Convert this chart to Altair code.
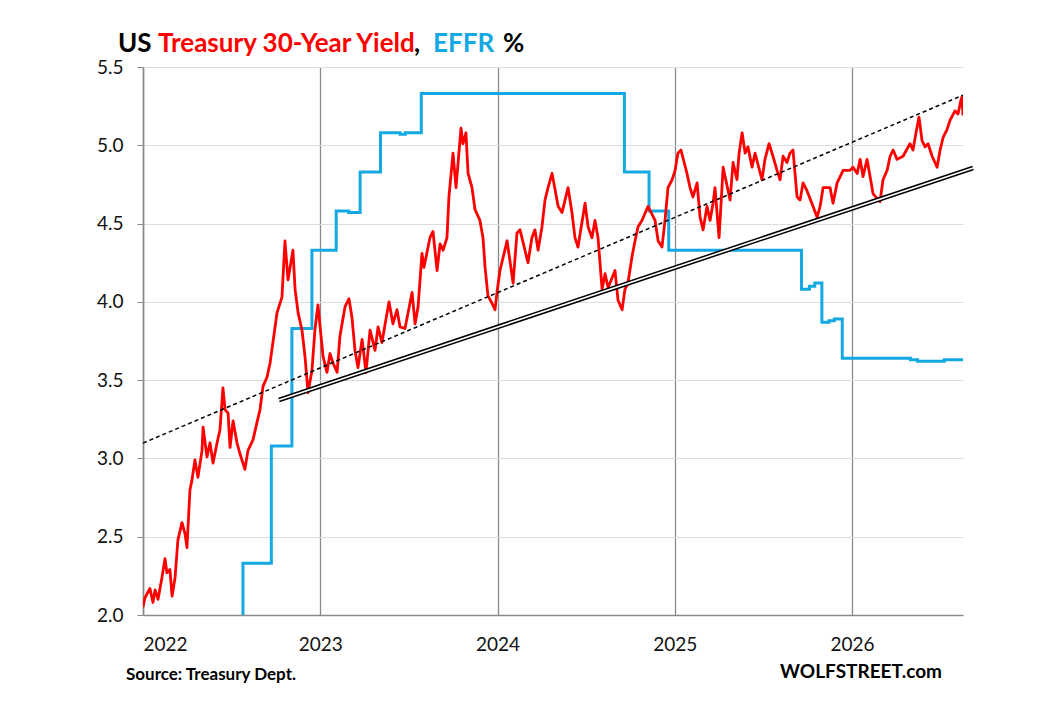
import altair as alt
import pandas as pd

# ---------------- data ----------------
ust_year = [
    2022.000, 2022.011, 2022.039, 2022.056, 2022.068, 2022.085, 2022.107, 2022.124,
    2022.135, 2022.152, 2022.164, 2022.181, 2022.197, 2022.220, 2022.237, 2022.248,
    2022.265, 2022.276, 2022.293, 2022.310, 2022.333, 2022.339, 2022.361, 2022.378,
    2022.395, 2022.418, 2022.434, 2022.451, 2022.463, 2022.480, 2022.491, 2022.508,
    2022.530, 2022.547, 2022.575, 2022.592, 2022.621, 2022.643, 2022.660, 2022.677,
    2022.700, 2022.717, 2022.733, 2022.756, 2022.784, 2022.801, 2022.818, 2022.846,
    2022.858, 2022.875, 2022.897, 2022.914, 2022.931, 2022.953, 2022.970, 2022.987,
    2023.016, 2023.038, 2023.055, 2023.072, 2023.095, 2023.111, 2023.140, 2023.162,
    2023.179, 2023.196, 2023.213, 2023.236, 2023.258, 2023.281, 2023.309, 2023.326,
    2023.348, 2023.388, 2023.410, 2023.433, 2023.450, 2023.478, 2023.518, 2023.535,
    2023.552, 2023.574, 2023.585, 2023.619, 2023.636, 2023.659, 2023.676, 2023.693,
    2023.715, 2023.726, 2023.749, 2023.766, 2023.794, 2023.805, 2023.822, 2023.834,
    2023.856, 2023.873, 2023.901, 2023.918, 2023.930, 2023.946, 2023.969, 2023.986,
    2023.997, 2024.014, 2024.054, 2024.088, 2024.110, 2024.127, 2024.172, 2024.194,
    2024.211, 2024.229, 2024.251, 2024.268, 2024.285, 2024.308, 2024.342, 2024.364,
    2024.398, 2024.420, 2024.437, 2024.454, 2024.494, 2024.511, 2024.533, 2024.550,
    2024.567, 2024.590, 2024.607, 2024.624, 2024.663, 2024.680, 2024.703, 2024.719,
    2024.736, 2024.759, 2024.776, 2024.793, 2024.815, 2024.849, 2024.889, 2024.906,
    2024.928, 2024.945, 2024.962, 2024.985, 2025.002, 2025.018, 2025.035, 2025.069,
    2025.086, 2025.103, 2025.126, 2025.143, 2025.160, 2025.182, 2025.199, 2025.216,
    2025.227, 2025.250, 2025.273, 2025.312, 2025.329, 2025.351, 2025.363, 2025.380,
    2025.397, 2025.413, 2025.436, 2025.453, 2025.492, 2025.509, 2025.532, 2025.554,
    2025.577, 2025.594, 2025.611, 2025.633, 2025.650, 2025.667, 2025.690, 2025.707,
    2025.724, 2025.746, 2025.780, 2025.803, 2025.820, 2025.837, 2025.876, 2025.893,
    2025.916, 2025.933, 2025.950, 2025.989, 2026.006, 2026.029, 2026.046, 2026.062,
    2026.085, 2026.119, 2026.158, 2026.175, 2026.198, 2026.215, 2026.232, 2026.254,
    2026.288, 2026.327, 2026.344, 2026.361, 2026.378, 2026.395, 2026.412, 2026.429,
    2026.452, 2026.468, 2026.480, 2026.497, 2026.514, 2026.536, 2026.553, 2026.581,
    2026.598, 2026.615, 2026.621, 2026.626,
]
ust_yield = [
    2.05, 2.11, 2.17, 2.08, 2.16, 2.10, 2.24, 2.36,
    2.27, 2.29, 2.12, 2.24, 2.48, 2.59, 2.52, 2.43,
    2.80, 2.86, 2.99, 2.88, 3.05, 3.20, 3.01, 3.10,
    2.97, 3.10, 3.18, 3.45, 3.31, 3.29, 3.07, 3.24,
    3.10, 3.03, 2.93, 3.05, 3.12, 3.23, 3.31, 3.46,
    3.52, 3.61, 3.74, 3.93, 4.03, 4.39, 4.14, 4.33,
    4.08, 3.93, 3.82, 3.65, 3.42, 3.56, 3.82, 3.98,
    3.65, 3.55, 3.67, 3.61, 3.55, 3.78, 3.97, 4.02,
    3.90, 3.69, 3.58, 3.76, 3.55, 3.82, 3.69, 3.84,
    3.74, 4.00, 3.86, 3.95, 3.84, 3.83, 4.06, 3.86,
    3.97, 4.31, 4.22, 4.41, 4.45, 4.20, 4.37, 4.33,
    4.41, 4.67, 4.95, 4.73, 5.11, 5.01, 5.08, 4.82,
    4.73, 4.59, 4.52, 4.41, 4.22, 4.04, 3.99, 3.95,
    4.06, 4.20, 4.39, 4.12, 4.44, 4.46, 4.25, 4.41,
    4.46, 4.33, 4.48, 4.65, 4.73, 4.82, 4.61, 4.57,
    4.73, 4.57, 4.41, 4.35, 4.63, 4.48, 4.41, 4.52,
    4.41, 4.08, 4.18, 4.09, 4.20, 4.01, 3.95, 4.08,
    4.12, 4.29, 4.39, 4.48, 4.52, 4.61, 4.52, 4.39,
    4.35, 4.52, 4.73, 4.78, 4.84, 4.95, 4.97, 4.82,
    4.73, 4.67, 4.76, 4.54, 4.46, 4.61, 4.52, 4.63,
    4.73, 4.41, 4.86, 4.65, 4.89, 4.78, 4.95, 5.08,
    4.95, 4.99, 4.86, 4.95, 4.78, 4.91, 5.01, 4.93,
    4.84, 4.78, 4.93, 4.89, 4.95, 4.97, 4.67, 4.65,
    4.76, 4.71, 4.61, 4.54, 4.61, 4.73, 4.73, 4.63,
    4.76, 4.80, 4.84, 4.84, 4.86, 4.82, 4.91, 4.80,
    4.91, 4.69, 4.64, 4.78, 4.84, 4.93, 4.97, 4.91,
    4.93, 5.01, 4.97, 5.08, 5.18, 5.03, 4.99, 5.01,
    4.93, 4.89, 4.86, 4.97, 5.05, 5.10, 5.16, 5.22,
    5.20, 5.29, 5.31, 5.19,
]

effr_year = [
    2022.000, 2022.210, 2022.345, 2022.460, 2022.564, 2022.724, 2022.840, 2022.953,
    2023.090, 2023.160, 2023.225, 2023.340, 2023.450, 2023.480, 2023.570, 2024.716,
    2024.855, 2024.966, 2025.715, 2025.760, 2025.790, 2025.830, 2025.870, 2025.900,
    2025.945, 2026.330, 2026.370, 2026.520, 2026.626,
]
effr_rate = [
    0.08, 0.33, 0.83, 1.58, 2.33, 3.08, 3.83, 4.33,
    4.58, 4.57, 4.83, 5.08, 5.07, 5.08, 5.33, 4.83,
    4.58, 4.33, 4.08, 4.10, 4.12, 3.87, 3.88, 3.89,
    3.64, 3.63, 3.62, 3.63, 3.63,
]

dash_year = [2022.000, 2026.626]
dash_value = [3.098, 5.320]
double_year = [2022.767, 2026.683]
double_value = [3.373, 4.855]

year_ticks = [2022, 2023, 2024, 2025, 2026]
yield_ticks = [2.0, 2.5, 3.0, 3.5, 4.0, 4.5, 5.0, 5.5]

title_parts = ["US", "Treasury 30-Year Yield", ",", "EFFR", "%"]
source_text = "Source: Treasury Dept."
brand_text = "WOLFSTREET.com"

# ---------------- chart ----------------
FONT = "Lato"
RED = "#FF0000"
BLUE = "#14A9E2"
GRID_DARK = "#8a8a8a"

xs = alt.Scale(domain=[2022.0, 2026.6262], nice=False, zero=False)
ys = alt.Scale(domain=[2.0, 5.5], nice=False, zero=False)

xaxis = alt.Axis(values=year_ticks, format="d", title=None, grid=True,
                 gridColor=GRID_DARK, gridWidth=1.3, domainColor=GRID_DARK,
                 domainWidth=1.6, ticks=False, labelPadding=20, labelFontSize=19,
                 labelFont=FONT, labelColor="#111111")
yaxis = alt.Axis(values=yield_ticks, format=".1f", title=None, grid=True,
                 gridColor="#dcdcdc", gridWidth=1, domainColor=GRID_DARK,
                 domainWidth=1.6, ticks=True, tickColor=GRID_DARK, tickSize=6,
                 labelPadding=14, labelFontSize=19, labelFont=FONT,
                 labelColor="#111111")

ust_df = pd.DataFrame({"year": ust_year, "value": ust_yield})
effr_df = pd.DataFrame({"year": effr_year, "value": effr_rate})
dash_df = pd.DataFrame({"year": dash_year, "value": dash_value})
dbl_df = pd.DataFrame({"year": double_year, "value": double_value})


def enc(chart):
    return chart.encode(
        x=alt.X("year:Q", scale=xs, axis=xaxis),
        y=alt.Y("value:Q", scale=ys, axis=yaxis),
    )


effr = enc(alt.Chart(effr_df).mark_line(interpolate="step-after", color=BLUE,
                                        strokeWidth=3, clip=True))
ust = enc(alt.Chart(ust_df).mark_line(color=RED, strokeWidth=2.8, clip=True,
                                      strokeJoin="round"))
dash = enc(alt.Chart(dash_df).mark_line(color="#000000", strokeWidth=1.5,
                                        strokeDash=[4, 3], clip=False))
dbl_black = enc(alt.Chart(dbl_df).mark_line(color="#000000", strokeWidth=4.6,
                                            clip=False))
dbl_white = enc(alt.Chart(dbl_df).mark_line(color="#ffffff", strokeWidth=1.6,
                                            clip=False))

title_colors = ["#000000", RED, "#000000", BLUE, "#000000"]
title_x = [-25, 15, 271, 290, 360]
texts = []
for part, col, px in zip(title_parts, title_colors, title_x):
    texts.append(
        alt.Chart(pd.DataFrame({"t": [part]})).mark_text(
            align="left", baseline="alphabetic", font=FONT, fontSize=26,
            fontWeight="bold", color=col
        ).encode(text="t:N", x=alt.value(px), y=alt.value(-15))
    )

texts.append(
    alt.Chart(pd.DataFrame({"t": [source_text]})).mark_text(
        align="left", baseline="alphabetic", font=FONT, fontSize=17,
        fontWeight="bold", color="#000000"
    ).encode(text="t:N", x=alt.value(-17), y=alt.value(613))
)
texts.append(
    alt.Chart(pd.DataFrame({"t": [brand_text]})).mark_text(
        align="right", baseline="alphabetic", font=FONT, fontSize=19,
        fontWeight="bold", color="#000000"
    ).encode(text="t:N", x=alt.value(799), y=alt.value(611))
)

chart = alt.layer(effr, ust, dash, dbl_black, dbl_white, *texts).properties(
    width=820, height=548,
    padding={"left": 135, "top": 59, "right": 80, "bottom": 78},
    autosize="none",
    background="#ffffff",
).configure_view(stroke=None)

chart.save("out.html", embed_options={"renderer": "svg", "actions": False})
